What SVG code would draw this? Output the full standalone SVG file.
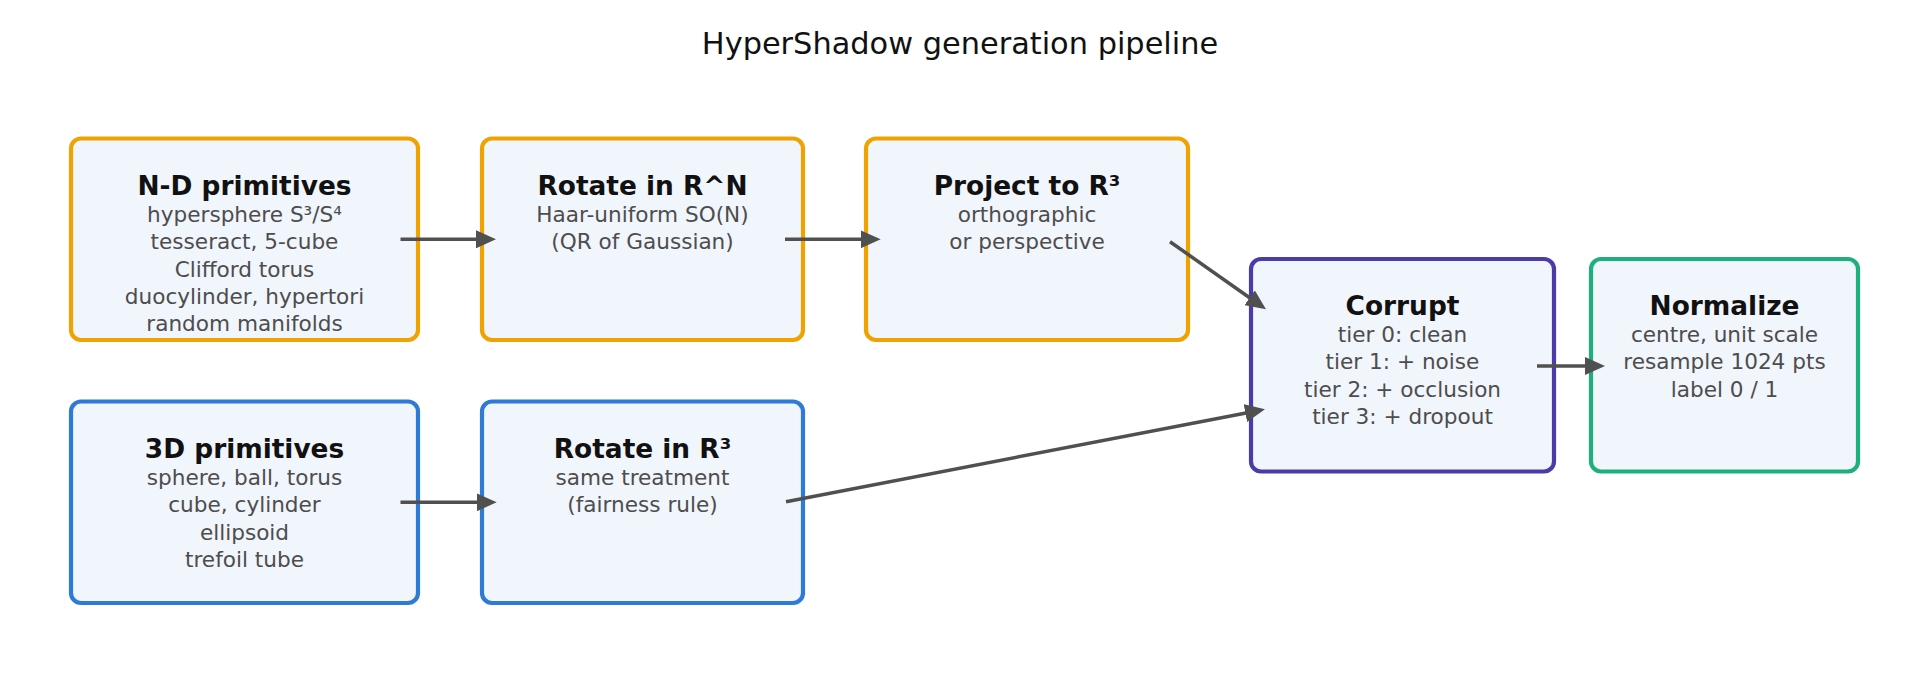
<svg xmlns="http://www.w3.org/2000/svg" width="1920" height="680" viewBox="0 0 1920 680">
  <style>
    .box { fill: #f1f5fc; stroke-width: 4.2; }
    .orange { stroke: #efa200; }
    .blue { stroke: #2d7bd6; }
    .purple { stroke: #4a3ba8; }
    .green { stroke: #1db07d; }
    .ttl { font-family: "DejaVu Sans", sans-serif; font-weight: bold; font-size: 26.4px; fill: #111111; text-anchor: middle; }
    .sub { font-family: "DejaVu Sans", sans-serif; font-size: 21.6px; fill: #4d4d4d; text-anchor: middle; }
    .main { font-family: "DejaVu Sans", sans-serif; font-size: 30.4px; fill: #111111; text-anchor: middle; }
    .conn { stroke: #505050; stroke-width: 3.5; fill: none; marker-end: url(#ah); }
  </style>
  <defs>
    <marker id="ah" markerUnits="userSpaceOnUse" markerWidth="20" markerHeight="18" viewBox="0 0 20 18" refX="10" refY="9" orient="auto">
      <path d="M0,0 L20,9 L0,18 Z" fill="#505050"/>
    </marker>
  </defs>
  <rect width="1920" height="680" fill="#ffffff"/>
  <text class="main" x="960" y="54">HyperShadow generation pipeline</text>

  <g id="nd-primitives">
    <rect class="box orange" x="71" y="138.5" width="347" height="201.5" rx="10"/>
    <text class="ttl" x="244.5" y="194.5">N-D primitives</text>
    <text class="sub" x="244.5" y="221.5">hypersphere S³/S⁴</text>
    <text class="sub" x="244.5" y="249">tesseract, 5-cube</text>
    <text class="sub" x="244.5" y="276.5">Clifford torus</text>
    <text class="sub" x="244.5" y="303.5">duocylinder, hypertori</text>
    <text class="sub" x="244.5" y="331">random manifolds</text>
  </g>

  <g id="rotate-rn">
    <rect class="box orange" x="482" y="138.5" width="321" height="201.5" rx="10"/>
    <text class="ttl" x="642.5" y="194.5">Rotate in R^N</text>
    <text class="sub" x="642.5" y="221.5">Haar-uniform SO(N)</text>
    <text class="sub" x="642.5" y="249">(QR of Gaussian)</text>
  </g>

  <g id="project-r3">
    <rect class="box orange" x="866" y="138.5" width="322" height="201.5" rx="10"/>
    <text class="ttl" x="1027" y="194.5">Project to R³</text>
    <text class="sub" x="1027" y="221.5">orthographic</text>
    <text class="sub" x="1027" y="249">or perspective</text>
  </g>

  <g id="primitives-3d">
    <rect class="box blue" x="71" y="401.5" width="347" height="201.5" rx="10"/>
    <text class="ttl" x="244.5" y="457.5">3D primitives</text>
    <text class="sub" x="244.5" y="484.5">sphere, ball, torus</text>
    <text class="sub" x="244.5" y="512">cube, cylinder</text>
    <text class="sub" x="244.5" y="539.5">ellipsoid</text>
    <text class="sub" x="244.5" y="566.5">trefoil tube</text>
  </g>

  <g id="rotate-r3">
    <rect class="box blue" x="482" y="401.5" width="321" height="201.5" rx="10"/>
    <text class="ttl" x="642.5" y="457.5">Rotate in R³</text>
    <text class="sub" x="642.5" y="484.5">same treatment</text>
    <text class="sub" x="642.5" y="512">(fairness rule)</text>
  </g>

  <g id="corrupt">
    <rect class="box purple" x="1251" y="259" width="303" height="212.5" rx="10"/>
    <text class="ttl" x="1402.5" y="314.5">Corrupt</text>
    <text class="sub" x="1402.5" y="341.5">tier 0: clean</text>
    <text class="sub" x="1402.5" y="369">tier 1: + noise</text>
    <text class="sub" x="1402.5" y="396.5">tier 2: + occlusion</text>
    <text class="sub" x="1402.5" y="424">tier 3: + dropout</text>
  </g>

  <g id="normalize">
    <rect class="box green" x="1591" y="259" width="267" height="212.5" rx="10"/>
    <text class="ttl" x="1724.5" y="314.5">Normalize</text>
    <text class="sub" x="1724.5" y="341.5">centre, unit scale</text>
    <text class="sub" x="1724.5" y="369">resample 1024 pts</text>
    <text class="sub" x="1724.5" y="396.5">label 0 / 1</text>
  </g>

  <g id="connectors">
    <line class="conn" x1="400.5" y1="239.3" x2="486" y2="239.3"/>
    <line class="conn" x1="785" y1="239.3" x2="870.7" y2="239.3"/>
    <line class="conn" x1="1170" y1="241.7" x2="1257.8" y2="303.5"/>
    <line class="conn" x1="400.5" y1="502.3" x2="486.7" y2="502.3"/>
    <line class="conn" x1="786" y1="501.7" x2="1255.2" y2="411.2"/>
    <line class="conn" x1="1537" y1="366" x2="1595" y2="366"/>
  </g>
</svg>
